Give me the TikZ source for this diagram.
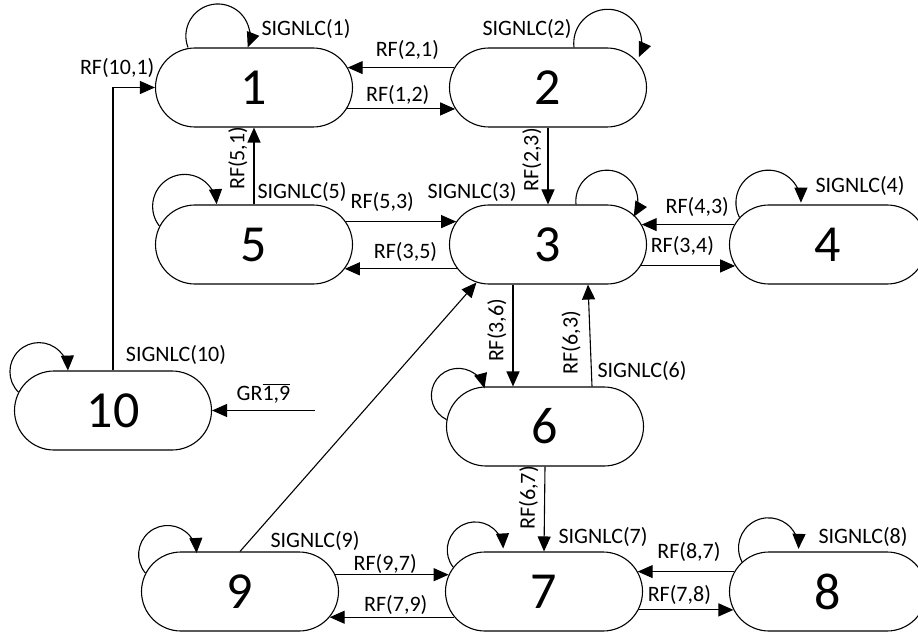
\documentclass[tikz,border=0pt]{standalone}
\usepackage{fontspec}
\setmainfont{Carlito}
\usetikzlibrary{arrows.meta}
\usetikzlibrary{shapes.misc}
\tikzset{st/.style={draw, rounded rectangle, minimum width=197pt, minimum height=79pt, inner sep=0pt, font=\fontsize{52}{52}\selectfont}}
\tikzset{l/.style={font=\fontsize{22}{22}\selectfont, inner sep=0pt}}

\begin{document}
\begin{tikzpicture}[x=1pt, y=1pt, line width=1.1pt, >={Triangle[length=15pt,width=13pt]}]
  \useasboundingbox (0,0) rectangle (918,633);
  % states
  \node [st] (n1) at (254,545.5) {1};
  \node [st] (n2) at (548,545.5) {2};
  \node [st] (n5) at (254,388.5) {5};
  \node [st] (n3) at (548,388.5) {3};
  \node [st] (n4) at (828,388.5) {4};
  \node [st] (n10) at (113,222.5) {10};
  \node [st] (n6) at (545,206.5) {6};
  \node [st] (n9) at (240,41.5) {9};
  \node [st] (n7) at (544,41.5) {7};
  \node [st] (n8) at (828,41.5) {8};
  \coordinate (gr) at (315,222.5);

  % self loops
  \draw [->] ([xshift=-66pt]n1.north) arc [start angle=201, end angle=-21, radius=32];
  \draw [->] ([xshift=26pt]n2.north) arc [start angle=187, end angle=-24, radius=34];
  \draw [->] (n5.169) arc [start angle=218, end angle=4, radius=32];
  \draw [->] ([xshift=28pt]n3.north) arc [start angle=186, end angle=-30, radius=31];
  \draw [->] (n4.163) arc [start angle=207, end angle=0, radius=32.5];
  \draw [->] (n10.169) arc [start angle=225, end angle=2, radius=29];
  \draw [->] (n6.176) arc [start angle=244, end angle=15, radius=27];
  \draw [->] (n9.169) arc [start angle=220, end angle=3, radius=29];
  \draw [->] (n7.165) arc [start angle=218, end angle=3, radius=28];
  \draw [->] (n8.161) arc [start angle=208, end angle=-2, radius=30];
  \node [l] (sg1) at (306,604.5) {SIGNLC(1)};
  \node [l] (sg2) at (527,604.5) {SIGNLC(2)};
  \node [l] (sg5) at (302,441) {SIGNLC(5)};
  \node [l] (sg3) at (472,441) {SIGNLC(3)};
  \node [l] (sg4) at (860,447) {SIGNLC(4)};
  \node [l] (sg10) at (176,278) {SIGNLC(10)};
  \node [l] (sg6) at (642,262) {SIGNLC(6)};
  \node [l] (sg9) at (315,92) {SIGNLC(9)};
  \node [l] (sg7) at (603,96) {SIGNLC(7)};
  \node [l] (sg8) at (863,96) {SIGNLC(8)};

  % transitions
  \draw [->] (n2.168) -- node [l, above=7pt, pos=0.44] {RF(2,1)} (n1.12);
  \draw [->] (n1.-13) -- node [l, above=4pt, pos=0.47] {RF(1,2)} (n2.193);
  \draw [->] (n10.north) |- node [l, above=9pt, pos=0.55] {RF(10,1)} (n1.west);
  \draw [->] (n5.north) -- node [l, sloped, above=6pt, pos=0.6] {RF(5,1)} (n1.south);
  \draw [<-] (n3.north) -- node [l, sloped, above=6pt, pos=0.58] {RF(2,3)} (n2.south);
  \draw [->] (n5.14) -- node [l, above=9pt, pos=0.33] {RF(5,3)} (n3.166);
  \draw [->] (n3.195) -- node [l, above=7pt, pos=0.46] {RF(3,5)} (n5.-15);
  \draw [->] (n4.168) -- node [l, above=7pt, pos=0.4] {RF(4,3)} (n3.12);
  \draw [->] (n3.-13) -- node [l, above=10pt, pos=0.44] {RF(3,4)} (n4.193);
  \draw [<-] ([xshift=-32pt]n6.north) -- node [l, sloped, above=6pt, pos=0.55] {RF(3,6)} ([xshift=-35pt]n3.south);
  \draw [->] ([xshift=47pt]n6.north) -- node [l, rotate=90, above=9pt, pos=0.43] {RF(6,3)} ([xshift=40pt]n3.south);
  \draw [->] (n9.north) -- (n3.208);
  \draw [->] (gr) -- node [l, above=7pt] {GR$\overline{\mbox{1,9}}$} (n10.east);
  \draw [<-] (n7.north) -- node [l, sloped, above=6pt, pos=0.63] {RF(6,7)} (n6.south);
  \draw [->] (n9.10) -- node [l, above=1pt, pos=0.44] {RF(9,7)} (n7.170);
  \draw [->] (n7.196) -- node [l, above=2pt, pos=0.47] {RF(7,9)} (n9.-16);
  \draw [->] (n8.168) -- node [l, above=9pt, pos=0.47] {RF(8,7)} (n7.12);
  \draw [->] (n7.-11) -- node [l, above=5pt, pos=0.43] {RF(7,8)} (n8.191);
\end{tikzpicture}
\end{document}
